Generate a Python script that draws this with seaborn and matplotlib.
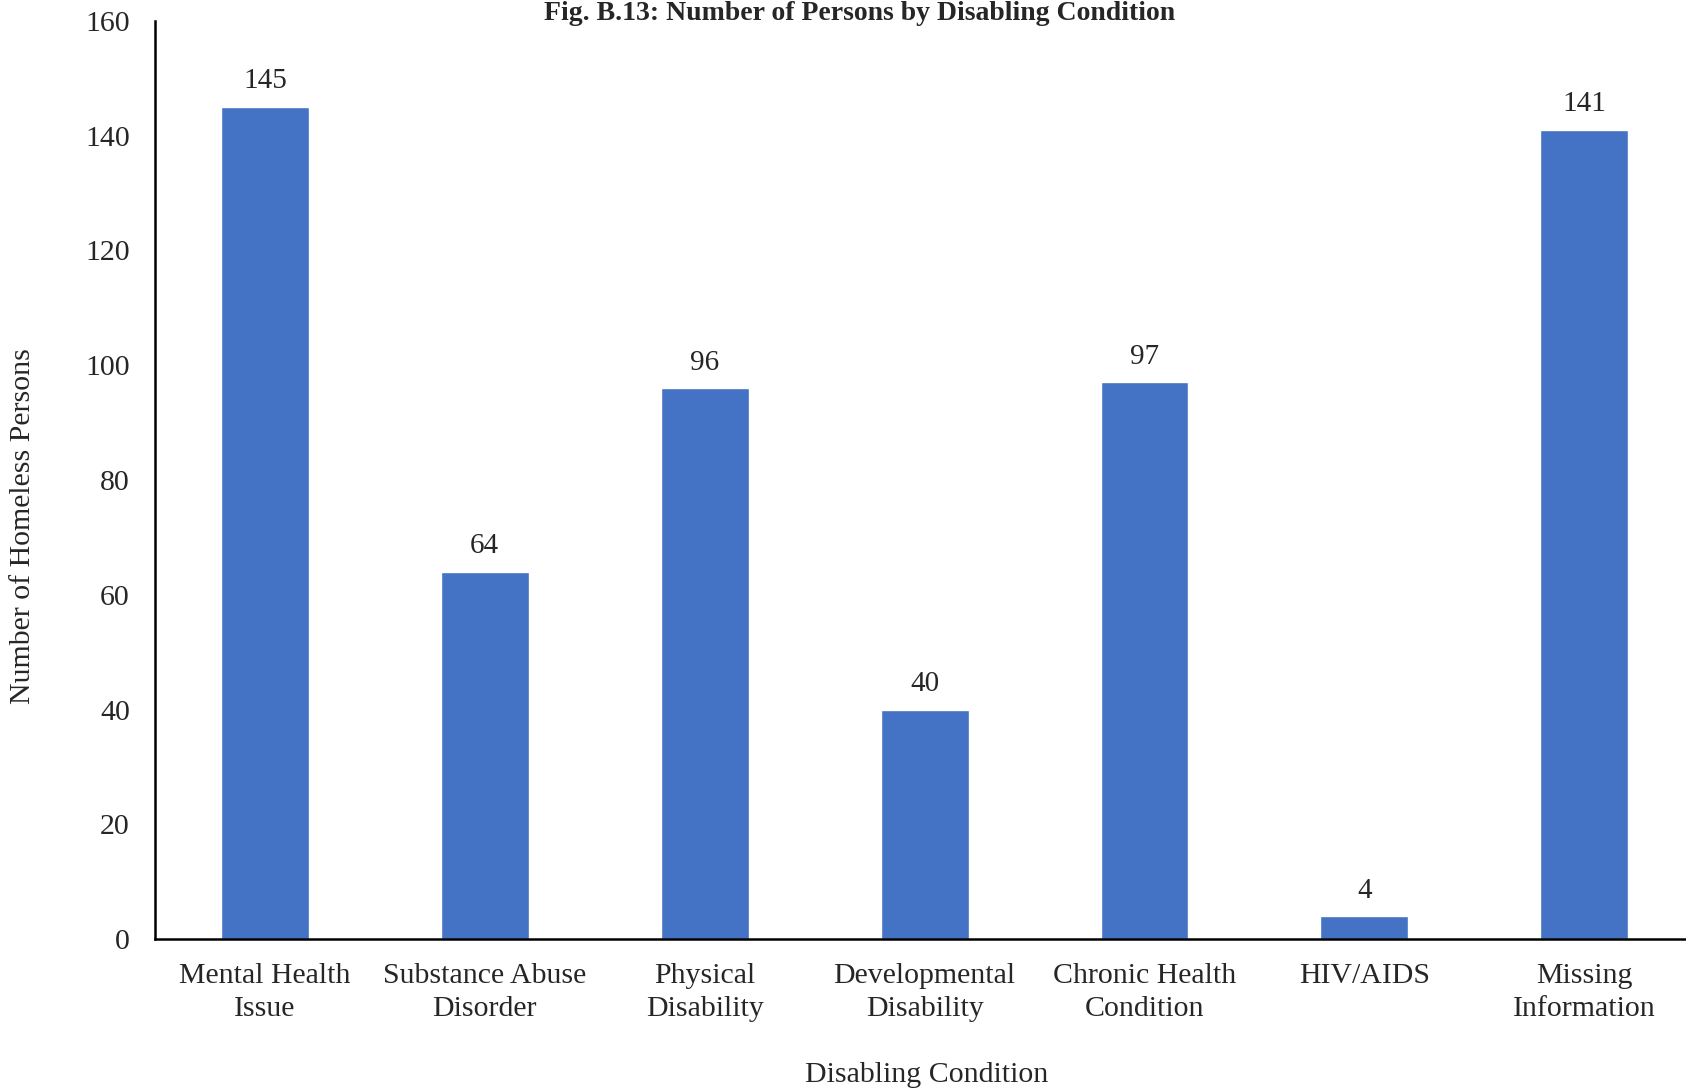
import pandas as pd
import matplotlib
matplotlib.use("Agg")
import matplotlib.pyplot as plt
import seaborn as sns

# --- Dados do gráfico ---
categorias = ["Mental Health\nIssue", "Substance Abuse\nDisorder", "Physical\nDisability",
              "Developmental\nDisability", "Chronic Health\nCondition", "HIV/AIDS",
              "Missing\nInformation"]
valores = [145, 64, 96, 40, 97, 4, 141]
yticks = [0, 20, 40, 60, 80, 100, 120, 140, 160]

df = pd.DataFrame({"condicao": categorias, "pessoas": valores})

sns.set_style("white")
plt.rcParams["font.family"] = ["Liberation Serif", "DejaVu Serif"]

fig = plt.figure(figsize=(16.86, 10.92), dpi=100)
ax = fig.add_axes([0.0919, 0.140, 0.913, 0.841])

sns.barplot(x="condicao", y="pessoas", data=df, color="#4472C4",
            width=0.4, saturation=1, ax=ax)

# valores em cima das barras
ax.bar_label(ax.containers[0], fmt="%d", padding=9, fontsize=21)

ax.set_xlim(-0.5, 6.5)
ax.set_ylim(0, 160)
ax.set_yticks(yticks)
ax.tick_params(axis="both", length=0, labelsize=21.5)
ax.tick_params(axis="y", pad=18)
ax.tick_params(axis="x", pad=17)
for lbl in ax.get_xticklabels():
    lbl.set_linespacing(1.35)

ax.set_xlabel("Disabling Condition", fontsize=21.5)
ax.xaxis.set_label_coords(0.501, -0.134)
ax.set_ylabel("Number of Homeless Persons", fontsize=21.5)
ax.yaxis.set_label_coords(-0.077, 0.45)

for lado in ["top", "right"]:
    ax.spines[lado].set_visible(False)
for lado in ["left", "bottom"]:
    ax.spines[lado].set_color("black")
    ax.spines[lado].set_linewidth(1.8)

# título no topo da figura
fig.text(0.51, 0.999, "Fig. B.13: Number of Persons by Disabling Condition",
         ha="center", va="top", fontsize=20, fontweight="bold")

fig.savefig("out.png", dpi=100)
